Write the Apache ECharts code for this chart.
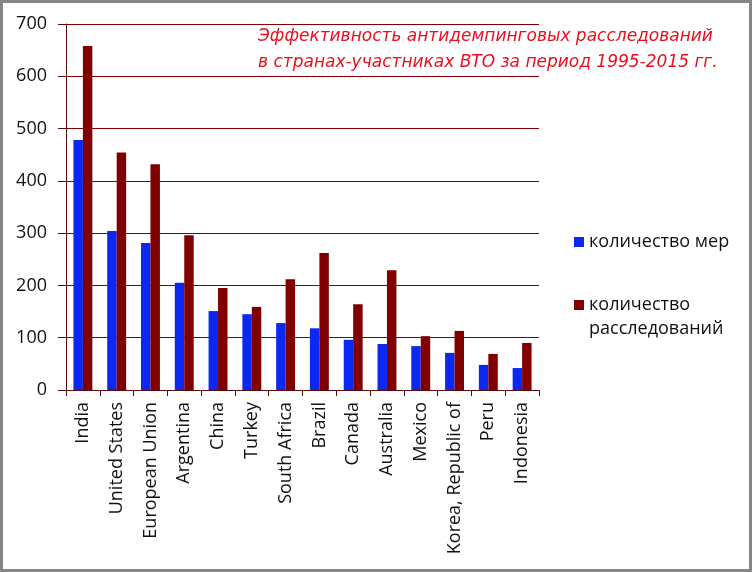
<!DOCTYPE html>
<html>
<head>
<meta charset="utf-8">
<script src="https://cdn.jsdelivr.net/npm/echarts@6/dist/echarts.min.js"></script>
<style>
  html, body { margin: 0; padding: 0; background: #fff; }
  #chart { width: 752px; height: 572px; }
</style>
</head>
<body>
<div id="chart"></div>
<script>
// страны
var countries = ['India', 'United States', 'European Union', 'Argentina', 'China', 'Turkey',
    'South Africa', 'Brazil', 'Canada', 'Australia', 'Mexico', 'Korea, Republic of', 'Peru', 'Indonesia'];
// количество мер
var measures = [478, 304, 281, 205, 151, 145, 128, 118, 96, 88, 84, 71, 48, 42];
// количество расследований
var investigations = [658, 454, 432, 296, 195, 159, 212, 262, 164, 229, 103, 113, 69, 90];

var seriesNames = ['количество мер', 'количество расследований'];
var titleText = 'Эффективность антидемпинговых расследований\nв странах-участниках ВТО за период 1995-2015 гг.';

var chart = echarts.init(document.getElementById('chart'));
var labelFont = '"Open Sans", "DejaVu Sans", sans-serif';

var option = {
    animation: false,
    title: {
        text: titleText,
        left: 258,
        top: 24,
        padding: 0,
        textStyle: {
            color: '#e8101e',
            fontStyle: 'italic',
            fontWeight: 'normal',
            fontFamily: '"DejaVu Sans", sans-serif',
            fontSize: 17,
            lineHeight: 26
        }
    },
    graphic: [{
        type: 'rect',
        shape: { x: 1.5, y: 1.5, width: 749, height: 569 },
        style: { fill: 'none', stroke: '#858585', lineWidth: 3 },
        z: 100
    }],
    legend: [{
        data: [seriesNames[0]],
        left: 574,
        top: 230,
        padding: 0,
        icon: 'rect',
        itemWidth: 10,
        itemHeight: 10,
        textStyle: { fontFamily: labelFont, fontSize: 18, color: '#111', lineHeight: 24 }
    }, {
        data: [seriesNames[1]],
        left: 574,
        top: 269,
        padding: 0,
        icon: 'rect',
        itemWidth: 10,
        itemHeight: 10,
        // пустая первая строка, чтобы квадрат стоял напротив первой строки
        formatter: function () { return ' \nколичество\nрасследований'; },
        textStyle: { fontFamily: labelFont, fontSize: 18, color: '#111', lineHeight: 24 }
    }],
    grid: {
        left: 66,
        right: 213,
        top: 24,
        bottom: 182,
        containLabel: false
    },
    xAxis: {
        type: 'category',
        data: countries,
        axisLine: { lineStyle: { color: '#5a0a0a', width: 1 } },
        axisTick: { show: true, length: 6, lineStyle: { color: '#5a0a0a' } },
        axisLabel: {
            rotate: 90,
            interval: 0,
            margin: 12,
            fontFamily: labelFont,
            fontSize: 18,
            color: '#111'
        }
    },
    yAxis: {
        type: 'value',
        min: 0,
        max: 700,
        interval: 100,
        axisLine: { show: true, lineStyle: { color: '#5a0a0a', width: 1 } },
        axisTick: { show: true, length: 8, lineStyle: { color: '#5a0a0a' } },
        axisLabel: {
            margin: 19,
            fontFamily: labelFont,
            fontSize: 18,
            color: '#111'
        },
        splitLine: { lineStyle: { color: '#800000', width: 1 } }
    },
    series: [{
        name: seriesNames[0],
        type: 'bar',
        data: measures,
        barGap: '0%',
        barCategoryGap: '44%',
        itemStyle: { color: '#0a28f2' }
    }, {
        name: seriesNames[1],
        type: 'bar',
        data: investigations,
        itemStyle: { color: '#800000' }
    }]
};

chart.setOption(option);
</script>
</body>
</html>
